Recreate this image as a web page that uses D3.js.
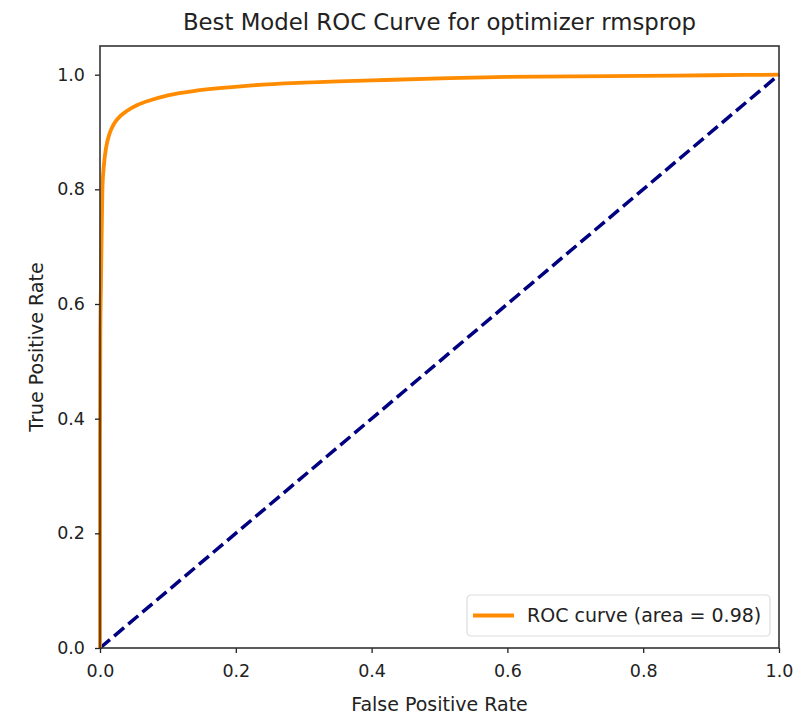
<!DOCTYPE html>
<html>
<head>
<meta charset="utf-8">
<script src="https://cdn.jsdelivr.net/npm/d3@7"></script>
<style>
  body { margin: 0; background: #fff; }
  svg text { font-family: 'DejaVu Sans', sans-serif; fill: #222; }
</style>
</head>
<body>
<div id="chart"></div>
<script>
// ROC curve points
const fpr = [0, 0, 0.0005, 0.0015, 0.0035, 0.006, 0.009, 0.014, 0.021, 0.03, 0.04, 0.055, 0.073, 0.1, 0.147, 0.22, 0.3, 0.4, 0.515, 0.6, 0.7, 0.8, 0.9, 1.0];
const tpr = [0, 0.35, 0.55, 0.64, 0.8, 0.845, 0.873, 0.897, 0.915, 0.928, 0.937, 0.947, 0.955, 0.964, 0.973, 0.981, 0.986, 0.99, 0.994, 0.996, 0.997, 0.998, 0.999, 1.0];
const chanceLine = [0, 1];
const xTicks = [0, 0.2, 0.4, 0.6, 0.8, 1.0];
const yTicks = [0, 0.2, 0.4, 0.6, 0.8, 1.0];
const legendLabel = 'ROC curve (area = 0.98)';

const width = 805, height = 716;
const margin = { top: 46, right: 26, bottom: 68, left: 100 };
const innerW = width - margin.left - margin.right;
const innerH = height - margin.top - margin.bottom;

const svg = d3.select('#chart')
  .append('svg')
  .attr('width', width)
  .attr('height', height);

const g = svg.append('g')
  .attr('transform', `translate(${margin.left},${margin.top})`);

const x = d3.scaleLinear().domain([0, 1]).range([0, innerW]);
const y = d3.scaleLinear().domain([0, 1.05]).range([innerH, 0]);

// clip for the curves
svg.append('defs').append('clipPath').attr('id', 'plotClip')
  .append('rect').attr('x', -2).attr('y', -2).attr('width', innerW + 4).attr('height', innerH + 4);

const line = d3.line().x((d) => x(d[0])).y((d) => y(d[1]));

// chance diagonal
g.append('path')
  .datum(chanceLine.map((v) => [v, v]))
  .attr('d', line)
  .attr('fill', 'none')
  .attr('stroke', '#000080')
  .attr('stroke-width', 3.5)
  .attr('stroke-dasharray', '13,5.5');

// ROC curve
g.append('path')
  .datum(fpr.map((f, i) => [f, tpr[i]]))
  .attr('d', line.curve(d3.curveMonotoneX))
  .attr('clip-path', 'url(#plotClip)')
  .attr('fill', 'none')
  .attr('stroke', '#ff8c00')
  .attr('stroke-width', 3.8)
  .attr('stroke-linejoin', 'round');

// axes
const xAxis = g.append('g')
  .attr('transform', `translate(0,${innerH})`)
  .call(d3.axisBottom(x).tickValues(xTicks).tickFormat(d3.format('.1f')).tickSize(5).tickPadding(12));
const yAxis = g.append('g')
  .call(d3.axisLeft(y).tickValues(yTicks).tickFormat(d3.format('.1f')).tickSize(5).tickPadding(10));

[xAxis, yAxis].forEach((a) => {
  a.select('.domain').remove();
  a.selectAll('line').attr('stroke', '#222').attr('stroke-width', 1.3);
  a.selectAll('text').attr('font-size', 17.5).attr('font-family', "'DejaVu Sans', sans-serif").attr('fill', '#222');
});

// frame
g.append('rect')
  .attr('width', innerW)
  .attr('height', innerH)
  .attr('fill', 'none')
  .attr('stroke', '#333')
  .attr('stroke-width', 1.6);

// title and axis labels
svg.append('text')
  .attr('x', margin.left + innerW / 2)
  .attr('y', 30)
  .attr('text-anchor', 'middle')
  .attr('font-size', 22.8)
  .text('Best Model ROC Curve for optimizer rmsprop');

svg.append('text')
  .attr('x', margin.left + innerW / 2)
  .attr('y', 711)
  .attr('text-anchor', 'middle')
  .attr('font-size', 19)
  .text('False Positive Rate');

svg.append('text')
  .attr('transform', `translate(43,${margin.top + innerH / 2}) rotate(-90)`)
  .attr('text-anchor', 'middle')
  .attr('font-size', 19)
  .text('True Positive Rate');

// legend
const legend = g.append('g')
  .attr('transform', `translate(${x(1) - 312},${y(0) - 53})`);
legend.append('rect')
  .attr('width', 303)
  .attr('height', 41)
  .attr('rx', 4)
  .attr('fill', '#fff')
  .attr('fill-opacity', 0.8)
  .attr('stroke', '#ddd')
  .attr('stroke-width', 1.2);
legend.append('line')
  .attr('x1', 6).attr('x2', 47)
  .attr('y1', 20.5).attr('y2', 20.5)
  .attr('stroke', '#ff8c00')
  .attr('stroke-width', 3.8);
legend.append('text')
  .attr('x', 60)
  .attr('y', 27)
  .attr('font-size', 19)
  .text(legendLabel);
</script>
</body>
</html>
